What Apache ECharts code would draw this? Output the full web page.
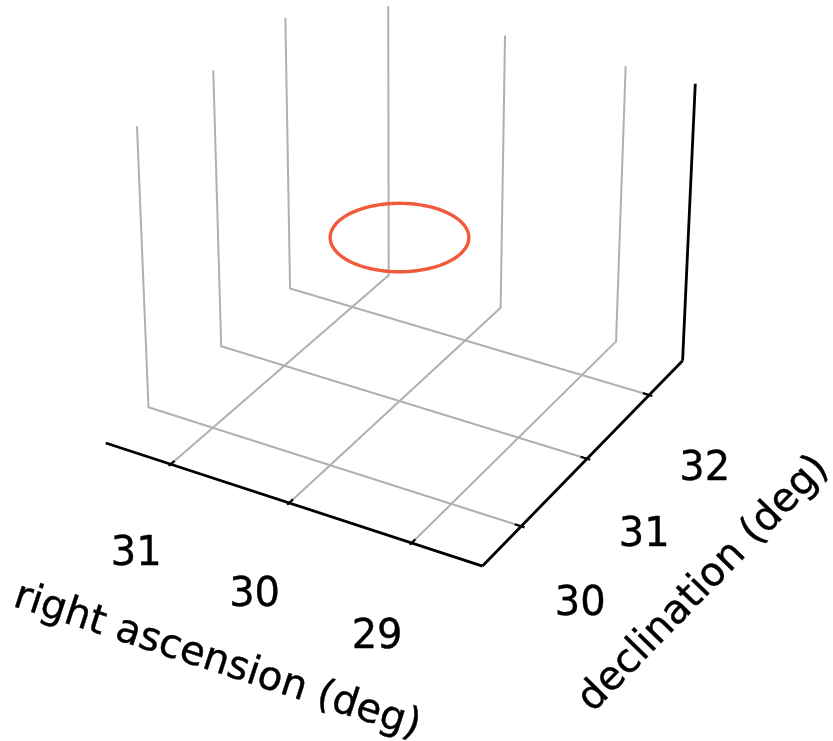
<!DOCTYPE html>
<html>
<head>
<meta charset="utf-8">
<script src="https://cdn.jsdelivr.net/npm/echarts@6/dist/echarts.min.js"></script>
<style>
  html, body { margin: 0; padding: 0; background: #ffffff; }
  #chart { width: 833px; height: 741px; }
</style>
</head>
<body>
<div id="chart"></div>
<script>
// ---- axis ranges and ticks (degrees) ----
const raLimits = [28.5, 31.5];     // right ascension, drawn high-to-low left-to-right
const decLimits = [29.5, 32.5];    // declination
const zLimits = [0, 1];            // unlabelled vertical axis
const raTicks = [31, 30, 29];
const decTicks = [30, 31, 32];

// ---- circular footprint on the sky ----
const circleCenter = [30, 31];     // [ra, dec]
const circleRadius = 0.5;          // deg
const circleLevel = 0.6;           // height on the vertical axis

const raTitle = 'right ascension (deg)';
const decTitle = 'declination (deg)';

// ---- camera: elevation / azimuth view with mild perspective ----
const ELEV = 30, AZIM = -60, DIST = 10;
const VIEW_SCALE = 3625, VIEW_CX = 399.5, VIEW_CY = 264;
const W = 833, H = 741;

const k = 1.8294640721620434 / Math.sqrt(41);
const box = [4 * k, 4 * k, 3 * k];
const center = box.map(b => b / 2);
const el = ELEV * Math.PI / 180, az = AZIM * Math.PI / 180;
const wDir = [Math.cos(el) * Math.cos(az), Math.cos(el) * Math.sin(az), Math.sin(el)];
let uDir = [-wDir[1], wDir[0], 0];
const un = Math.hypot(uDir[0], uDir[1]);
uDir = uDir.map(c => c / un);
const vDir = [
  wDir[1] * uDir[2] - wDir[2] * uDir[1],
  wDir[2] * uDir[0] - wDir[0] * uDir[2],
  wDir[0] * uDir[1] - wDir[1] * uDir[0]
];
const dot = (a, b) => a[0] * b[0] + a[1] * b[1] + a[2] * b[2];

// data (ra, dec, z) -> normalised box coordinates
function toBox(ra, dec, z) {
  return [
    (raLimits[1] - ra) / (raLimits[1] - raLimits[0]) * box[0],
    (dec - decLimits[0]) / (decLimits[1] - decLimits[0]) * box[1],
    (z - zLimits[0]) / (zLimits[1] - zLimits[0]) * box[2]
  ];
}
// box coordinates -> projected plane
function project(p) {
  const d = [p[0] - center[0], p[1] - center[1], p[2] - center[2]];
  const den = DIST - dot(wDir, d);
  return [dot(uDir, d) / den, dot(vDir, d) / den];
}

// frame of the box (slightly padded beyond the limits)
const FX0 = -box[0] / 48, FX1 = box[0] * 49 / 48;
const FY0 = -box[1] / 48, FY1 = box[1] * 49 / 48;
const FZ0 = -box[2] / 48, FZ1 = box[2] * 49 / 48;

const series = [];
function path(points, color, width, zl) {
  series.push({
    type: 'line',
    data: points.map(project),
    symbol: 'none',
    silent: true,
    animation: false,
    clip: false,
    z: zl,
    lineStyle: { color: color, width: width, cap: 'butt', join: 'miter' }
  });
}

const GRID = '#b0b0b0';
// grid on floor and back walls
raTicks.forEach(ra => {
  const x = toBox(ra, decLimits[0], zLimits[0])[0];
  path([[x, FY0, FZ0], [x, FY1, FZ0], [x, FY1, FZ1]], GRID, 2, 1);
});
decTicks.forEach(dec => {
  const y = toBox(raLimits[0], dec, zLimits[0])[1];
  path([[FX1, y, FZ0], [FX0, y, FZ0], [FX0, y, FZ1]], GRID, 2, 1);
});

// axis lines
path([[FX0, FY0, FZ0], [FX1, FY0, FZ0]], '#000', 2.8, 2);
path([[FX1, FY0, FZ0], [FX1, FY1, FZ0]], '#000', 2.8, 2);
path([[FX1, FY1, FZ0], [FX1, FY1, FZ1]], '#000', 2.8, 2);

// tick marks
const dy = (FY1 - FY0) / 12, dx = (FX1 - FX0) / 12;
raTicks.forEach(ra => {
  const x = toBox(ra, decLimits[0], zLimits[0])[0];
  path([[x, FY0 - 0.1 * dy, FZ0], [x, FY0 + 0.2 * dy, FZ0]], '#000', 2.2, 2);
});
decTicks.forEach(dec => {
  const y = toBox(raLimits[0], dec, zLimits[0])[1];
  path([[FX1 + 0.1 * dx, y, FZ0], [FX1 - 0.2 * dx, y, FZ0]], '#000', 2.2, 2);
});

// the circle
const ring = [];
for (let i = 0; i <= 180; i++) {
  const t = i / 180 * 2 * Math.PI;
  ring.push(toBox(circleCenter[0] + circleRadius * Math.cos(t),
                  circleCenter[1] + circleRadius * Math.sin(t), circleLevel));
}
path(ring, '#f25a3c', 3.4, 3);

// text: tick labels and axis titles
const FONT = {
  fontSize: 40, fontFamily: 'DejaVu Sans', color: '#000000',
  textBorderColor: '#000000', textBorderWidth: 0.4, opacity: 1
};
const texts = [];
raTicks.forEach(ra => {
  const x = toBox(ra, decLimits[0], zLimits[0])[0];
  texts.push({ value: project([x, FY0 - 0.183, FZ0 - 0.192]), text: String(ra), rot: 0 });
});
decTicks.forEach(dec => {
  const y = toBox(raLimits[0], dec, zLimits[0])[1];
  texts.push({ value: project([FX1 + 0.183, y, FZ0 - 0.192]), text: String(dec), rot: 0 });
});
function angleOf(a, b) {
  const p = project(a), q = project(b);
  return Math.atan2(q[1] - p[1], q[0] - p[0]) * 180 / Math.PI;
}
texts.push({
  value: project([(FX0 + FX1) / 2, FY0 - 0.375, FZ0 - 0.29]),
  text: raTitle,
  rot: angleOf([FX0, FY0, FZ0], [FX1, FY0, FZ0])
});
texts.push({
  value: project([FX1 + 0.37, (FY0 + FY1) / 2, FZ0 - 0.29]),
  text: decTitle,
  rot: angleOf([FX1, FY0, FZ0], [FX1, FY1, FZ0])
});

series.push({
  type: 'scatter',
  symbol: 'circle',
  symbolSize: 1,
  silent: true,
  animation: false,
  z: 4,
  itemStyle: { color: 'rgba(0,0,0,0)' },
  data: texts.map(t => ({
    value: t.value,
    label: Object.assign({
      show: true, position: 'inside', formatter: t.text, rotate: t.rot,
      align: 'center', verticalAlign: 'middle'
    }, FONT)
  }))
});

const chart = echarts.init(document.getElementById('chart'), null, { renderer: 'canvas' });
chart.setOption({
  backgroundColor: '#ffffff',
  animation: false,
  grid: { left: 0, right: 0, top: 0, bottom: 0, containLabel: false },
  xAxis: { type: 'value', min: -VIEW_CX / VIEW_SCALE, max: (W - VIEW_CX) / VIEW_SCALE, show: false },
  yAxis: { type: 'value', min: (VIEW_CY - H) / VIEW_SCALE, max: VIEW_CY / VIEW_SCALE, show: false },
  series: series
});
</script>
</body>
</html>
